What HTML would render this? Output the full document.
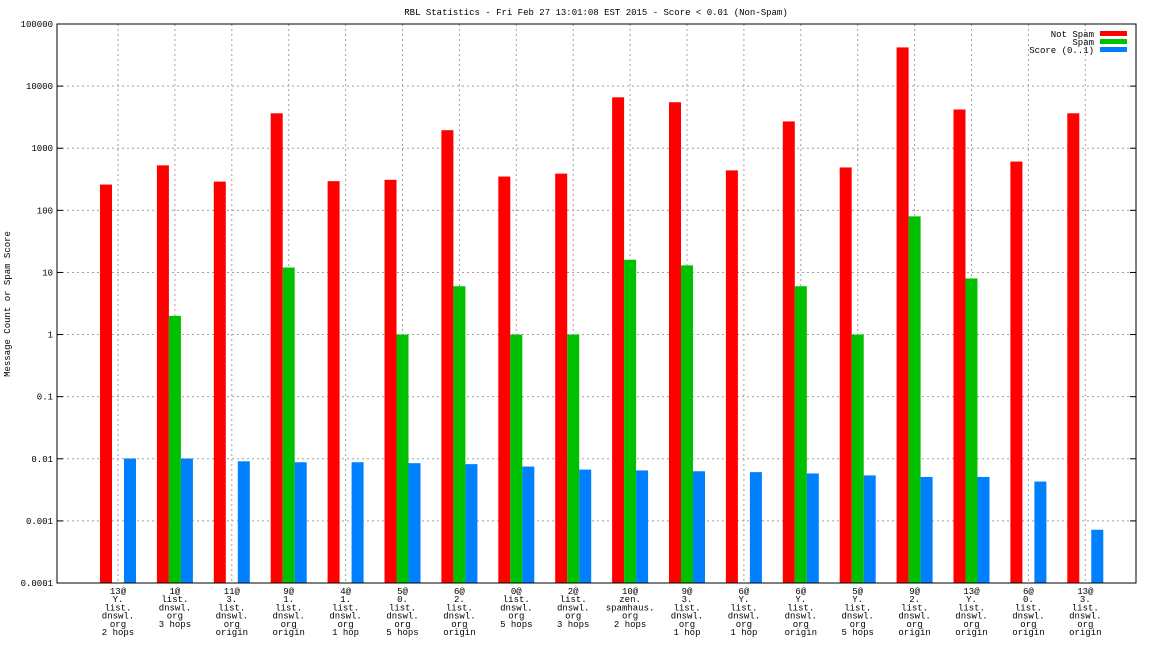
<!DOCTYPE html>
<html><head><meta charset="utf-8"><style>
body{margin:0;background:#fff}
svg text{font-family:"Liberation Mono",monospace;font-size:9px;fill:#000}
</style></head><body>
<svg id="c" width="1152" height="648" xmlns="http://www.w3.org/2000/svg"></svg>
<script>
const categories=[["13@","Y.","list.","dnswl.","org","2 hops"],["1@","list.","dnswl.","org","3 hops"],["11@","3.","list.","dnswl.","org","origin"],["9@","1.","list.","dnswl.","org","origin"],["4@","1.","list.","dnswl.","org","1 hop"],["5@","0.","list.","dnswl.","org","5 hops"],["6@","2.","list.","dnswl.","org","origin"],["0@","list.","dnswl.","org","5 hops"],["2@","list.","dnswl.","org","3 hops"],["10@","zen.","spamhaus.","org","2 hops"],["9@","3.","list.","dnswl.","org","1 hop"],["6@","Y.","list.","dnswl.","org","1 hop"],["6@","Y.","list.","dnswl.","org","origin"],["5@","Y.","list.","dnswl.","org","5 hops"],["9@","2.","list.","dnswl.","org","origin"],["13@","Y.","list.","dnswl.","org","origin"],["6@","0.","list.","dnswl.","org","origin"],["13@","3.","list.","dnswl.","org","origin"]];
const notSpam=[260,530,290,3650,295,310,1950,350,390,6600,5500,440,2700,490,42000,4200,610,3650];
const spam=[0,2,0,12,0,1,6,1,1,16,13,0,6,1,80,8,0,0];
const score=[0.0101,0.0101,0.0091,0.0088,0.0088,0.0085,0.0082,0.0075,0.0067,0.0065,0.0063,0.0061,0.0058,0.0054,0.0051,0.0051,0.0043,0.00072];
const yTicks=["0.0001","0.001","0.01","0.1","1","10","100","1000","10000","100000"];
const svg=document.getElementById('c');const NS="http://www.w3.org/2000/svg";
const L=57,R=1136,T=24,B=583;
const y=v=>B-(B-T)*(Math.log10(v)+4)/9;
const x=i=>118+56.9*i;
function mk(t,a,p){const e=document.createElementNS(NS,t);for(const k in a)e.setAttribute(k,a[k]);(p||svg).appendChild(e);return e;}
yTicks.forEach((t,k)=>{const yy=y(+t);
 if(k>0&&k<9){const g=mk('line',{x1:L,x2:R,y1:yy,y2:yy,stroke:'#a0a0a0','stroke-dasharray':'2,3'});}
 mk('line',{x1:L,x2:L+6,y1:yy,y2:yy,stroke:'#000'});mk('line',{x1:R-6,x2:R,y1:yy,y2:yy,stroke:'#000'});
 const tx=mk('text',{x:L-4,y:yy+3,'text-anchor':'end'});tx.textContent=t;
 });
categories.forEach((c,i)=>{const cx=x(i);
 const g=mk('line',{x1:cx,x2:cx,y1:T,y2:B,stroke:'#a0a0a0','stroke-dasharray':'2,3'});
 
 const tx=mk('text',{'text-anchor':'middle'});
 c.forEach((s,j)=>{const ts=mk('tspan',{x:cx,y:594+j*8.2},tx);ts.textContent=s;});
 [[notSpam,'#ff0000',-18],[spam,'#00c000',-6],[score,'#0080ff',6]].forEach(([arr,col,off])=>{const v=arr[i];if(v>0){const r=mk('rect',{x:cx+off,y:y(v),width:12,height:B-y(v),fill:col});}});
});
const fr=mk('rect',{x:L,y:T,width:R-L,height:B-T,fill:'none',stroke:'#000'});
const ti=mk('text',{x:596,y:15,'text-anchor':'middle'});ti.textContent="RBL Statistics - Fri Feb 27 13:01:08 EST 2015 - Score < 0.01 (Non-Spam)";

const yl=mk('text',{x:0,y:0,'text-anchor':'middle',transform:'translate(10,304) rotate(-90)'});yl.textContent="Message Count or Spam Score";

[["Not Spam",'#ff0000'],["Spam",'#00c000'],["Score (0..1)",'#0080ff']].forEach(([n,c],k)=>{
 const t=mk('text',{x:1094,y:37+k*8,'text-anchor':'end'});t.textContent=n;
 const r=mk('rect',{x:1100,y:31+k*8,width:27,height:5,fill:c});});
</script>
</body></html>
